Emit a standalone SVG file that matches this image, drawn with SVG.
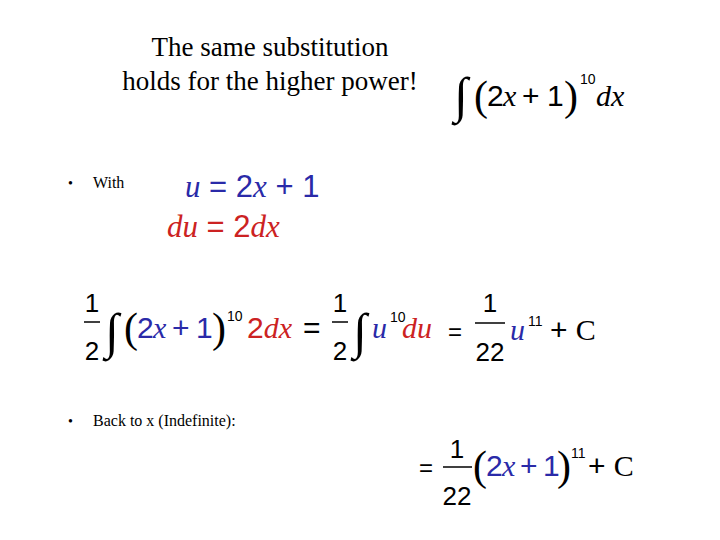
<svg xmlns="http://www.w3.org/2000/svg" width="720" height="540" viewBox="0 0 720 540">
<style>
.t{font-family:"Liberation Serif",serif;fill:#000}
.n{font-family:"Liberation Sans",sans-serif}
.v{font-family:"Liberation Serif",serif;font-style:italic}
.b{fill:#2a2aa8}.r{fill:#cc2222}
.ln{stroke:#000;stroke-width:1.5}
.p{font-family:"Liberation Serif",serif;fill:#000}
.m{font-size:30px}
.s{font-family:"Liberation Sans",sans-serif;font-size:14px}
</style>
<rect width="720" height="540" fill="#fff"/>
<g id="title" class="t" font-size="27" text-anchor="middle">
<text x="270" y="56">The same substitution</text>
<text x="270" y="90">holds for the higher power!</text>
</g>
<g id="topIntegral">
<text x="454" y="112" class="p" font-size="50">∫</text>
<text x="474" y="110" class="p" font-size="42">(</text>
<text x="487" y="106" class="n m">2</text>
<text x="503" y="106" class="v m">x</text>
<text x="522" y="106" class="n m">+</text>
<text x="547" y="106" class="n m">1</text>
<text x="564" y="110" class="p" font-size="42">)</text>
<text x="580" y="84" class="s">10</text>
<text x="596" y="106" class="v m">dx</text>
</g>
<g id="with">
<text x="68" y="188" class="t" font-size="14">•</text>
<text x="93" y="188" class="t" font-size="16">With</text>
<text x="185" y="197" font-size="31"><tspan class="v b">u</tspan><tspan class="n b"> = 2</tspan><tspan class="v b">x</tspan><tspan class="n b"> + 1</tspan></text>
<text x="167" y="237" font-size="31"><tspan class="v r">du</tspan><tspan class="n r"> = 2</tspan><tspan class="v r">dx</tspan></text>
</g>
<g id="row">
<text x="92" y="312" class="n" font-size="26" text-anchor="middle">1</text>
<line x1="84" y1="322" x2="100" y2="322" class="ln"/>
<text x="92" y="360" class="n" font-size="26" text-anchor="middle">2</text>
<text x="105" y="348" class="p" font-size="50">∫</text>
<text x="124" y="342" class="p" font-size="42">(</text>
<text x="137" y="338" class="n m b">2</text>
<text x="153" y="338" class="v m b">x</text>
<text x="172" y="338" class="n m b">+</text>
<text x="196" y="338" class="n m b">1</text>
<text x="212" y="342" class="p" font-size="42">)</text>
<text x="227" y="321" class="s">10</text>
<text x="247" y="338" class="m"><tspan class="n r">2</tspan><tspan class="v r">dx</tspan></text>
<text x="303" y="338" class="n m">=</text>
<text x="340" y="312" class="n" font-size="26" text-anchor="middle">1</text>
<line x1="332" y1="322" x2="348" y2="322" class="ln"/>
<text x="340" y="360" class="n" font-size="26" text-anchor="middle">2</text>
<text x="353" y="348" class="p" font-size="50">∫</text>
<text x="372" y="338" class="v b m">u</text>
<text x="390" y="322" class="s">10</text>
<text x="402" y="338" class="v r m">du</text>
<text x="448" y="340" class="n" font-size="24">=</text>
<text x="490" y="312" class="n" font-size="26" text-anchor="middle">1</text>
<line x1="475" y1="323" x2="505" y2="323" class="ln"/>
<text x="490" y="361" class="n" font-size="26" text-anchor="middle">22</text>
<text x="510" y="340" class="v b m">u</text>
<text x="528" y="326" class="s">11</text>
<text x="550" y="340" class="m"><tspan class="n">+ </tspan><tspan class="p">C</tspan></text>
</g>
<g id="back">
<text x="68" y="426" class="t" font-size="14">•</text>
<text x="93" y="426" class="t" font-size="16">Back to x (Indefinite):</text>
</g>
<g id="final">
<text x="419" y="476" class="n" font-size="24">=</text>
<text x="457" y="458" class="n" font-size="26" text-anchor="middle">1</text>
<line x1="443" y1="467" x2="472" y2="467" class="ln"/>
<text x="457" y="505" class="n" font-size="26" text-anchor="middle">22</text>
<text x="473" y="480" class="p" font-size="42">(</text>
<text x="486" y="476" class="n m b">2</text>
<text x="502" y="476" class="v m b">x</text>
<text x="520" y="476" class="n m b">+</text>
<text x="543" y="476" class="n m b">1</text>
<text x="557" y="480" class="p" font-size="42">)</text>
<text x="571" y="458" class="s">11</text>
<text x="588" y="476" class="m"><tspan class="n">+ </tspan><tspan class="p">C</tspan></text>
</g>
</svg>
